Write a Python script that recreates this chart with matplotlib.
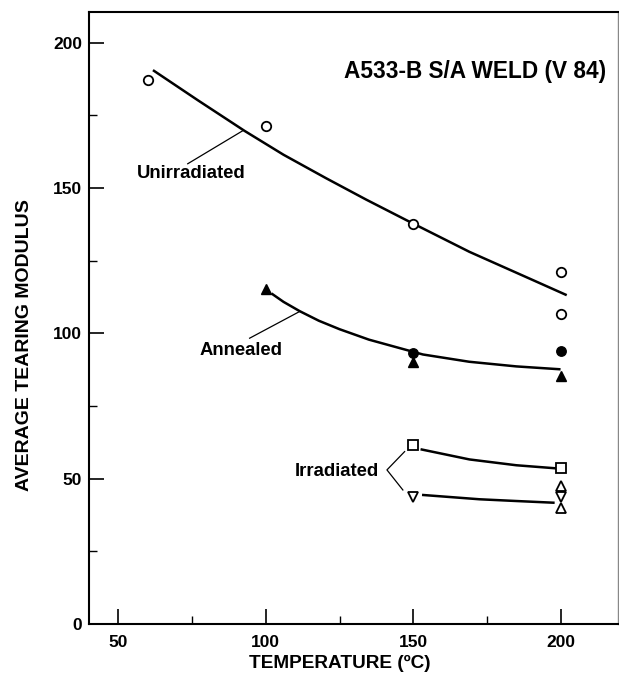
import matplotlib
matplotlib.use("Agg")
import matplotlib.pyplot as plt
from matplotlib.ticker import MultipleLocator

plt.rcParams['font.family'] = ['Liberation Sans', 'DejaVu Sans']

# --- data ---
title = "A533-B S/A WELD (V 84)"
xlabel = "TEMPERATURE (ºC)"
ylabel = "AVERAGE TEARING MODULUS"

x_ticks = [50, 100, 150, 200]
y_ticks = [0, 50, 100, 150, 200]

# measured points
unirr_x = [60, 100, 150, 200, 200]
unirr_y = [187.1, 171.4, 137.6, 121.1, 106.6]

ann_circ_x = [150, 200]
ann_circ_y = [93.1, 93.9]
ann_tri_x = [100, 150, 200]
ann_tri_y = [115.3, 90.2, 85.3]

irr_sq_x = [150, 200]
irr_sq_y = [61.6, 53.5]
irr_dn_x = [150, 200]
irr_dn_y = [43.8, 43.8]
irr_up_x = [200, 200]
irr_up_y = [47.5, 39.8]

# hand-drawn trend curves
unirr_curve_x = [61.7, 77.0, 92.8, 106.0, 120.5, 134.0, 147.7, 169.1, 190.6, 202.1]
unirr_curve_y = [190.5, 180.1, 169.6, 161.4, 153.3, 146.0, 138.9, 128.0, 118.3, 113.1]
ann_curve_x = [101.9, 106.0, 111.5, 118.0, 125.0, 135.0, 145.4, 153.3, 169.0, 185.0, 200.0]
ann_curve_y = [113.7, 110.8, 107.6, 104.3, 101.4, 97.8, 94.9, 92.7, 90.2, 88.6, 87.6]
irr_sq_curve_x = [152.5, 169.1, 185.0, 199.0]
irr_sq_curve_y = [60.1, 56.6, 54.6, 53.5]
irr_dn_curve_x = [153.0, 172.5, 185.0, 198.0]
irr_dn_curve_y = [44.4, 42.9, 42.3, 41.7]

# labels with leaders: (text, text_x, text_y)
lab_unirr = ("Unirradiated", 74.8, 155.0)
lead_unirr_x = [73.5, 92.4]
lead_unirr_y = [158.3, 169.8]
lab_ann = ("Annealed", 91.6, 93.9)
lead_ann_x = [94.5, 111.5]
lead_ann_y = [98.3, 107.5]
lab_irr = ("Irradiated", 124.2, 52.6)
lead_irr_x = [147.1, 141.1, 146.5]
lead_irr_y = [59.3, 53.0, 46.1]

fig = plt.figure(figsize=(6.19, 6.79), dpi=100)
ax = fig.add_axes([89/619, 1 - 624/679, (618 - 89)/619, (624 - 11.7)/679])
ax.set_xlim(40, 219.5)
ax.set_ylim(0, 210.6)

lw = 1.8
ax.plot(unirr_curve_x, unirr_curve_y, color='black', lw=lw, solid_capstyle='butt')
ax.plot(ann_curve_x, ann_curve_y, color='black', lw=lw, solid_capstyle='butt')
ax.plot(irr_sq_curve_x, irr_sq_curve_y, color='black', lw=lw, solid_capstyle='butt')
ax.plot(irr_dn_curve_x, irr_dn_curve_y, color='black', lw=lw, solid_capstyle='butt')

ms = 6.8
mew = 1.3
ax.plot(unirr_x, unirr_y, 'o', ms=ms, mfc='white', mec='black', mew=mew, ls='none')
ax.plot(ann_circ_x, ann_circ_y, 'o', ms=ms, mfc='black', mec='black', ls='none')
ax.plot(ann_tri_x, ann_tri_y, '^', ms=ms + 1, mfc='black', mec='black', ls='none')
ax.plot(irr_sq_x, irr_sq_y, 's', ms=ms, mfc='white', mec='black', mew=mew, ls='none')
ax.plot(irr_dn_x, irr_dn_y, 'v', ms=ms + 0.5, mfc='white', mec='black', mew=mew, ls='none')
ax.plot(irr_up_x, irr_up_y, '^', ms=ms + 0.5, mfc='white', mec='black', mew=mew, ls='none')

# leaders
ax.plot(lead_unirr_x, lead_unirr_y, color='black', lw=0.9)
ax.plot(lead_ann_x, lead_ann_y, color='black', lw=0.9)
ax.plot(lead_irr_x, lead_irr_y, color='black', lw=0.9)

lab_fs = 13.3
for t, tx, ty in (lab_unirr, lab_ann, lab_irr):
    ax.text(tx, ty, t, ha='center', va='center', fontsize=lab_fs, fontweight='bold')

ax.text(0.977, 0.902, title, transform=ax.transAxes, ha='right', va='center',
        fontsize=16.3, fontweight='bold')

# ticks
ax.set_xticks(x_ticks)
ax.set_yticks(y_ticks)
ax.xaxis.set_minor_locator(MultipleLocator(25))
ax.yaxis.set_minor_locator(MultipleLocator(25))
ax.tick_params(axis='both', which='major', direction='in', length=11, width=1.2,
               labelsize=12.5)
ax.tick_params(axis='both', which='minor', direction='in', length=6, width=1.0)
ax.tick_params(axis='x', which='both', top=False, pad=8)
ax.tick_params(axis='y', which='both', right=False, pad=5)
for lab in ax.get_xticklabels() + ax.get_yticklabels():
    lab.set_fontweight('bold')

for s in ax.spines.values():
    s.set_linewidth(1.5)
ax.spines['right'].set_linewidth(1.0)
ax.spines['right'].set_color('#888888')

ax.set_xlabel(xlabel, fontsize=13.7, fontweight='bold')
ax.xaxis.set_label_coords((340 - 89) / (618 - 89), -(663 - 624) / (624 - 11.7))
ax.set_ylabel(ylabel, fontsize=14, fontweight='bold')
ax.yaxis.set_label_coords(-(89 - 25) / (618 - 89), (624 - 345.5) / (624 - 11.7))
ax.yaxis.label.set_va('center')
ax.xaxis.label.set_va('center')

fig.savefig("out.png", dpi=100)
